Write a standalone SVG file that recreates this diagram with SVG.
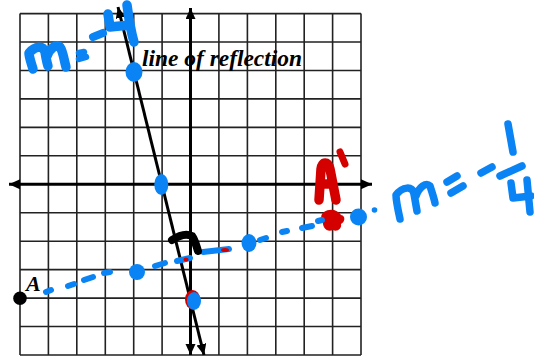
<svg xmlns="http://www.w3.org/2000/svg" width="534" height="358" viewBox="0 0 534 358">
<style>
.grid{stroke:#222;stroke-width:1.6;fill:none}
.axis{stroke:#000;stroke-width:3;fill:none}
.lbl{font-family:"Liberation Serif",serif;font-weight:bold;font-style:italic;fill:#000}
.hb{stroke:#0a84f5;fill:none;stroke-linecap:round;stroke-linejoin:round}
.hr{stroke:#d40000;fill:none;stroke-linecap:round;stroke-linejoin:round}
.fb{fill:#0a84f5}
.fr{fill:#d40000}
</style>
<defs>
<marker id="arr" markerUnits="userSpaceOnUse" markerWidth="12" markerHeight="11" refX="11" refY="5" orient="auto-start-reverse">
<path d="M0,0 L11,5 L0,10 z" fill="#000"/>
</marker>
</defs>
<rect width="534" height="358" fill="#fff"/>
<g id="grid" class="grid">
<path d="M20,13.6V355M48.4,13.6V355M76.8,13.6V355M105.3,13.6V355M133.7,13.6V355M162.1,13.6V355M218.9,13.6V355M247.4,13.6V355M275.8,13.6V355M304.2,13.6V355M332.6,13.6V355M361,13.6V355"/>
<path d="M20,13.6H361M20,42H361M20,70.5H361M20,98.9H361M20,127.4H361M20,155.8H361M20,212.7H361M20,241.2H361M20,269.6H361M20,298.1H361M20,326.5H361M20,355H361"/>
</g>
<g id="connectors">
<line id="x-axis" class="axis" x1="9" y1="184.3" x2="372" y2="184.3" stroke-width="3.5" marker-start="url(#arr)" marker-end="url(#arr)"/>
<line id="y-axis" class="axis" x1="190.5" y1="8" x2="190.5" y2="355" marker-start="url(#arr)" marker-end="url(#arr)"/>
<line id="reflection-line" class="axis" x1="118" y1="7" x2="204" y2="355" marker-start="url(#arr)" marker-end="url(#arr)"/>
</g>
<g id="label-line">
<text class="lbl" x="142" y="66" font-size="23" textLength="160" lengthAdjust="spacingAndGlyphs">line of reflection</text>
</g>
<g id="point-A">
<circle cx="20" cy="298.2" r="6.8" fill="#000"/>
<text class="lbl" x="26" y="291" font-size="22">A</text>
</g>
<g id="slope-left" class="hb" stroke-width="9.5">
<path d="M33,69 C31,62 29,57 29,53 C35,46 43,45 45,52 C46,58 47,63 48,66 M47,56 C50,48 56,44 60,47 C63,51 64,60 66,67"/>
<path d="M79,53 L84,52 M79,59 L86,57" stroke-width="6.5"/>
<path d="M93,37 L103,33" stroke-width="8"/>
<path d="M108,14 L110,27 L130,25 M127,5 C129,20 131,32 134,42"/>
</g>
<g id="slope-right" class="hb" stroke-width="7.5">
<path d="M400,219 C398,210 396,200 396,195 C402,187 413,185 414,194 L417,211 M416,196 C419,187 426,182 430,186 C432,192 434,198 435,203"/>
<path d="M447,182 L457,176 M451,193 L463,186"/>
<path d="M481,173 L492,167"/>
<path d="M508,124 L513,152"/>
<path d="M500,176 L522,166"/>
<path d="M511,183 L513,198 L531,196 M527,180 L530,212"/>
</g>
<g id="image-A">
<path class="hr" stroke-width="9.5" d="M319,200 L321,169 C322,161 328,161 330,169 L336,200 M322,184 L332,184"/>
<path class="hr" stroke-width="7" d="M340,152 L345,164"/>
<path class="fr" d="M324,212 C330,208 338,210 341,215 C346,216 345,222 341,224 C342,229 337,232 333,230 C327,233 322,227 323,221 C320,218 321,214 324,212 z"/>
</g>
<g id="dashed-path" class="hb" stroke-width="6">
<path d="M46,292 L51,290 M68,286 L74,284 M84,280 L93,277 M104,273 L110,272 M155,266 L165,263 M177,261 L190,258 M203,252 L229,249 M260,240 L266,238 M282,232 L287,231 M302,228 L312,226 M318,221 L322,220"/>
<circle class="fb" cx="137" cy="272" r="8" stroke="none"/>
<ellipse class="fb" cx="249" cy="243" rx="7.5" ry="9" stroke="none"/>
<circle class="fb" cx="358.5" cy="217" r="8.5" stroke="none"/>
<circle class="fb" cx="374.5" cy="210" r="2.8" stroke="none"/>
</g>
<g id="red-marks">
<ellipse class="fr" cx="186" cy="259.5" rx="2.5" ry="2"/>
<ellipse class="fr" cx="225" cy="250" rx="4" ry="2"/>
</g>
<g id="dots-reflection">
<ellipse class="fb" cx="134" cy="72" rx="8.5" ry="10"/>
<ellipse class="fb" cx="161.3" cy="184.5" rx="7" ry="10.5"/>
<ellipse class="fr" cx="192.6" cy="299.6" rx="7.6" ry="9.6"/>
<ellipse class="fb" cx="194" cy="301" rx="7" ry="9"/>
</g>
<g id="mark">
<path d="M172,240 C178,236 186,233 192,236 C195,240 196,245 198,251" stroke="#000" stroke-width="8" fill="none" stroke-linecap="round"/>
</g>
</svg>
